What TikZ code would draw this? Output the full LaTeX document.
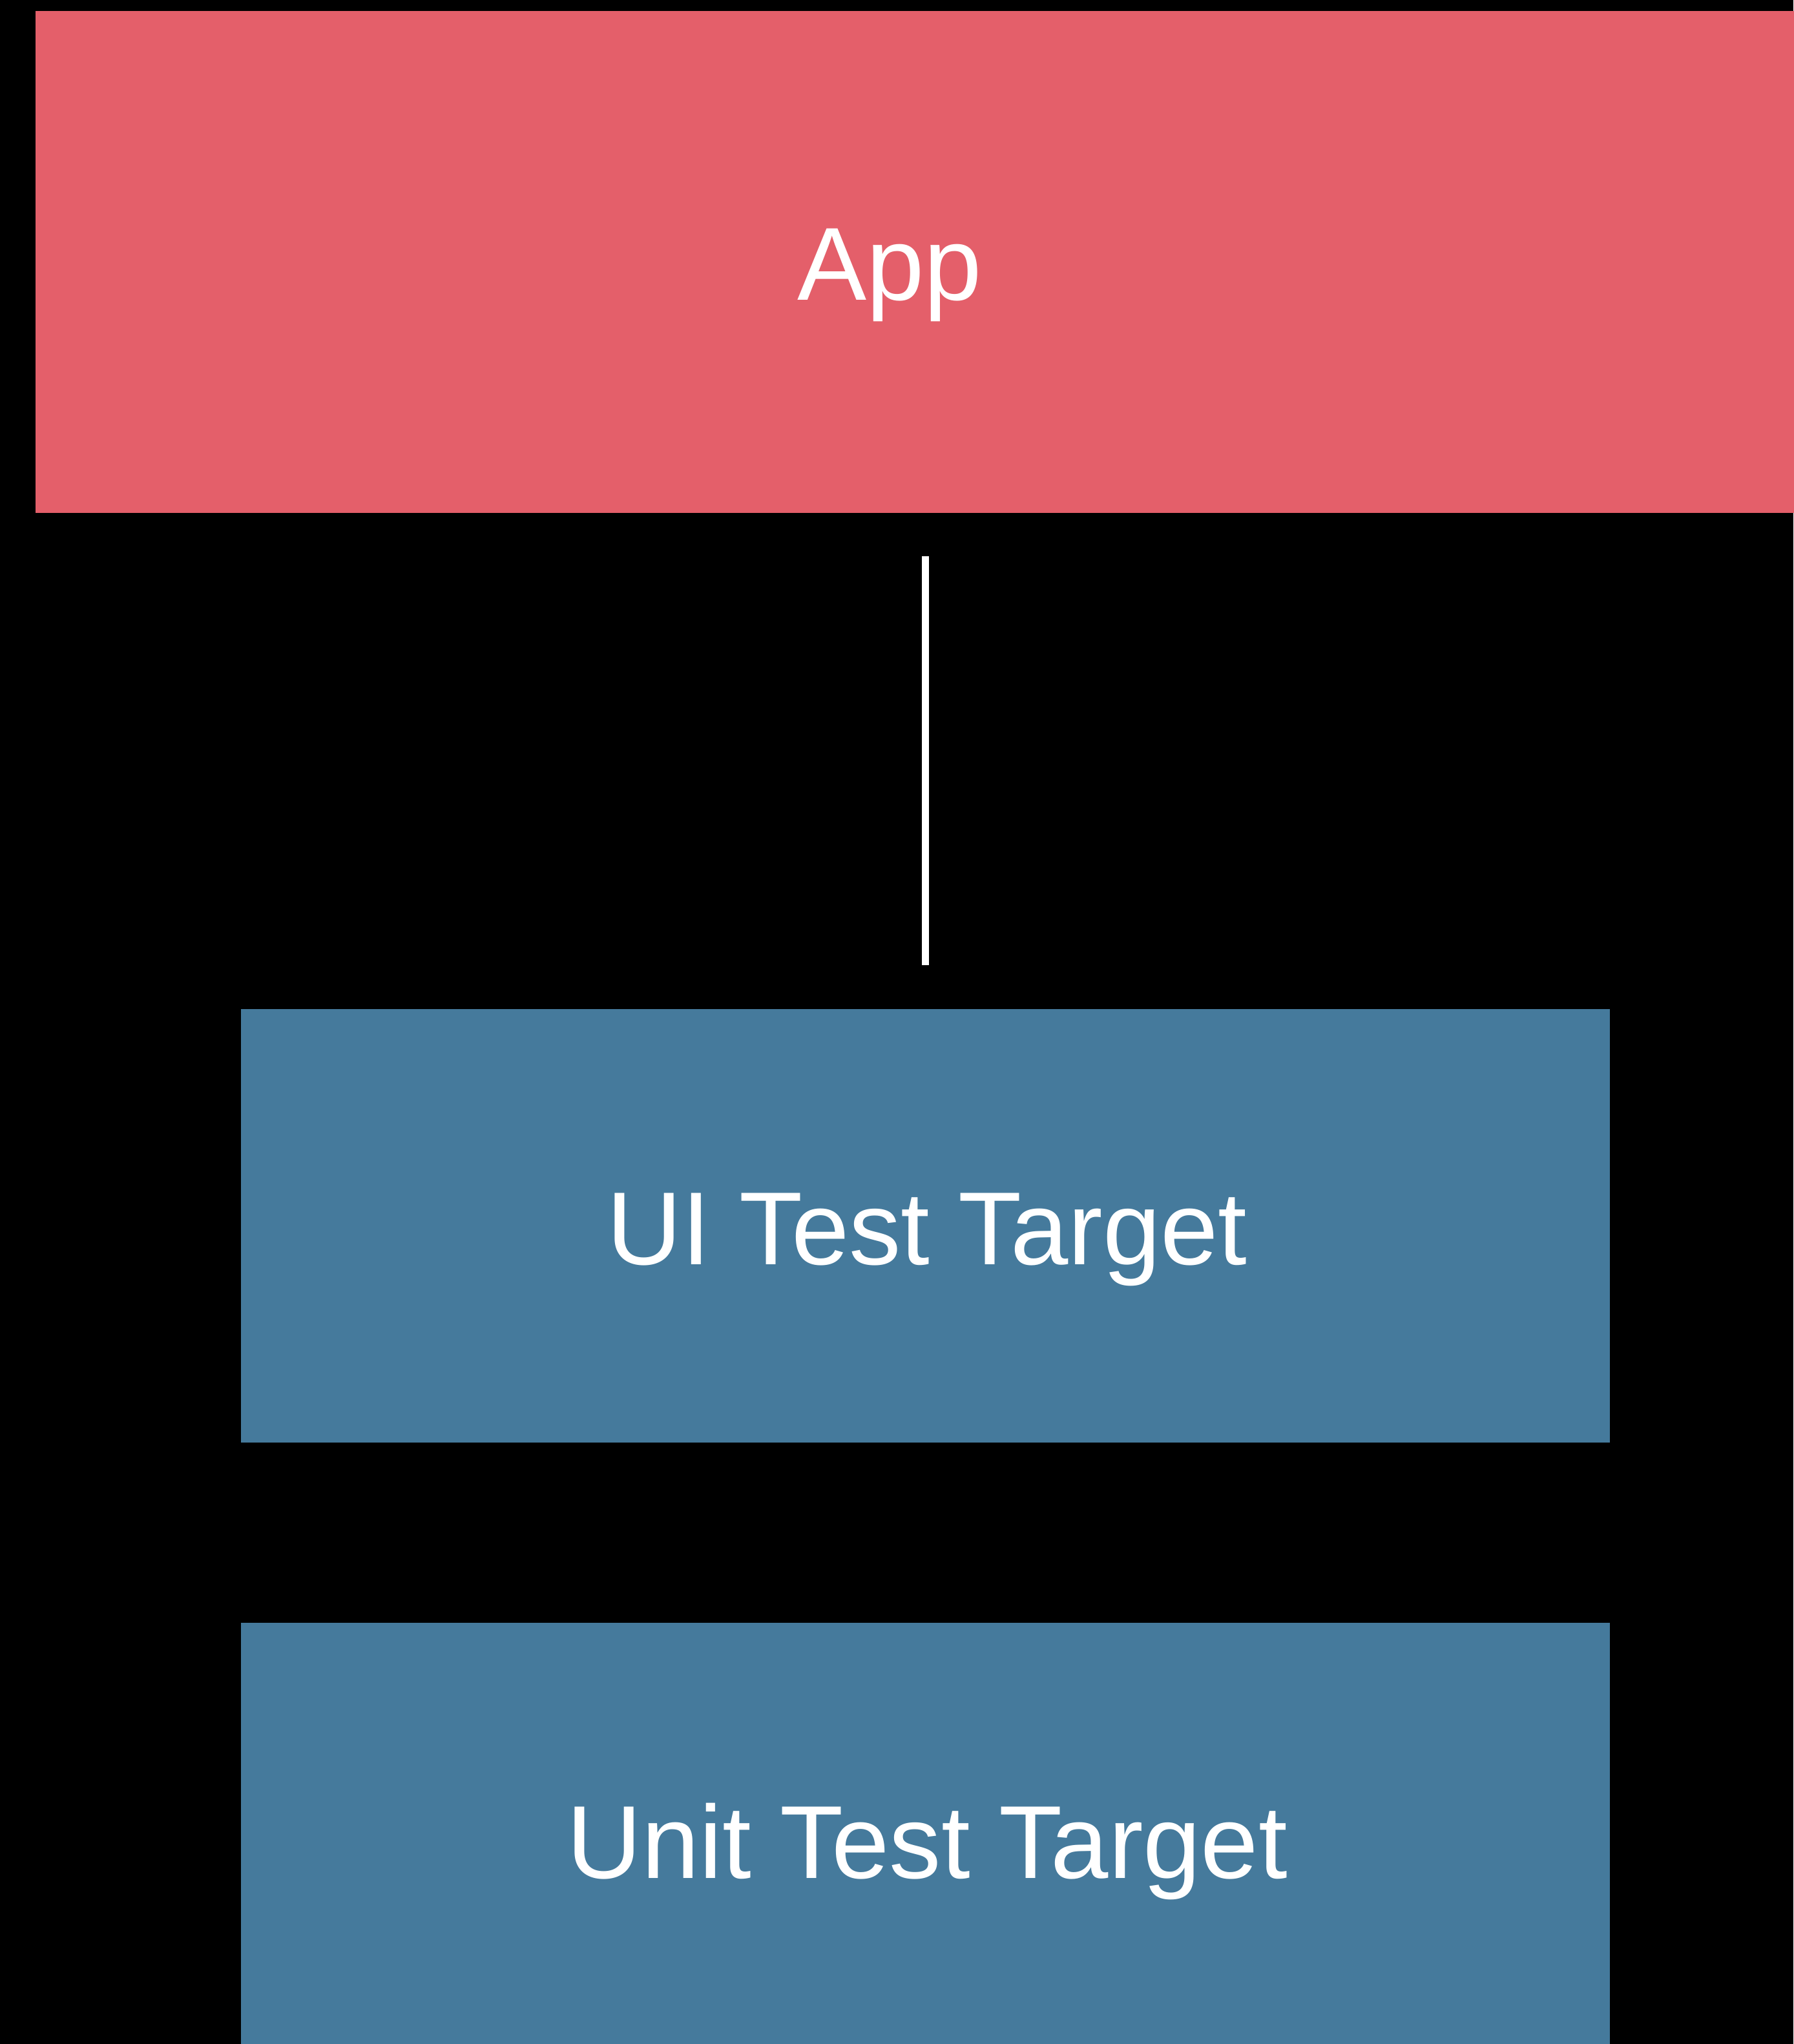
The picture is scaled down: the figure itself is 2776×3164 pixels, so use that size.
\documentclass[tikz,border=0pt]{standalone}
\usepackage{fontspec}
\setmainfont{Liberation Sans}
\definecolor{appred}{HTML}{E45F6A}
\definecolor{testblue}{HTML}{457A9C}
\begin{document}
\begin{tikzpicture}[x=1pt,y=-1pt,
  box/.style={fill=#1, draw=none, inner sep=0pt, outer sep=0pt, anchor=north west},
  lbl/.style={text=white, font=\fontsize{160.6}{190}\selectfont, inner sep=0pt, anchor=base},
  link/.style={draw=white, line width=11pt, shorten <=67pt, shorten >=68pt}]
\fill[black] (0,0) rectangle (2776,3164);
\useasboundingbox (0,0) rectangle (2776,3164);
\node[box=appred, minimum width=2760pt, minimum height=777pt] (app) at (55,17) {};
\node[box=testblue, minimum width=2119pt, minimum height=671pt] (ui) at (373,1562) {};
\node[box=testblue, minimum width=2119pt, minimum height=675pt] (unit) at (373,2512) {};
\node[lbl] (applbl) at (1377,464) {App};
\node[lbl] (uilbl) at (1435,1957) {UI Test Target};
\node[lbl] (unitlbl) at (1435,2907) {Unit Test Target};
\draw[link] (app.south -| ui.north) -- (ui.north);
\end{tikzpicture}
\end{document}
